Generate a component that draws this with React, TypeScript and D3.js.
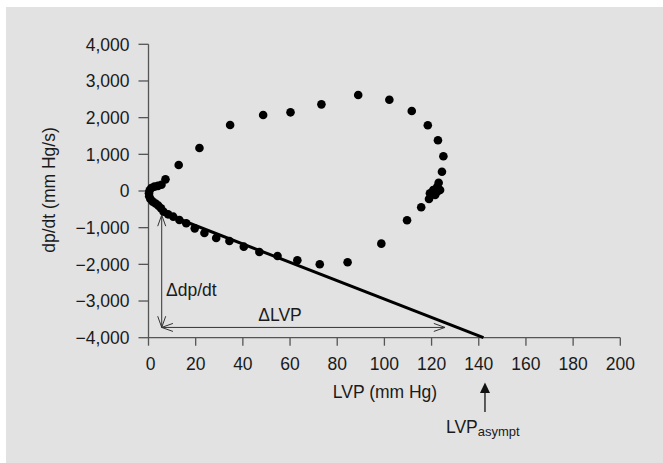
import React from "react";
import * as d3 from "d3";

// LVP (mm Hg) values of the phase-plane points
const lvp: number[] = [
  0.5, 1.2, 2.5, 4.0, 5.5, 7.2, 12.8, 21.6, 34.6, 48.6, 60.2, 73.3, 88.9,
  102.1, 111.6, 118.4, 122.7, 125.0, 124.4, 123.0,
  122.4, 123.6, 120.7, 119.3, 121.5, 122.4,
  118.9, 115.6, 109.6, 98.7, 84.4, 72.6, 63.1, 54.7, 47.0, 40.4, 34.3, 28.7,
  23.7, 19.6, 16.0, 13.1, 10.5, 8.3, 6.4, 5.3, 4.2, 3.0, 1.8, 0.8, 0.3, 0.2,
];
// dp/dt (mm Hg/s) values of the same points
const dpdt: number[] = [
  20, 80, 120, 140, 170, 318, 709, 1172, 1799, 2072, 2145, 2363, 2617,
  2489, 2181, 1791, 1382, 946, 526, 226,
  117, 27, 27, -63, -109, -19,
  -218, -444, -799, -1436, -1944, -1999, -1890, -1772, -1663, -1518, -1363, -1281,
  -1145, -1018, -881, -791, -700, -636, -564, -470, -400, -340, -290, -220, -140, -60,
];

// Asymptote regression line (LVP, dp/dt)
const lineLvp: number[] = [5.5, 142];
const lineDpdt: number[] = [-580, -4000];

// Annotation arrows
const deltaX: number[] = [5.6, 125.7]; // ΔLVP span
const deltaY: number[] = [-654, -3720]; // Δdp/dt span

const xTicks: number[] = [0, 20, 40, 60, 80, 100, 120, 140, 160, 180, 200];
const yTicks: number[] = [-4000, -3000, -2000, -1000, 0, 1000, 2000, 3000, 4000];

const W = 663;
const H = 463;
const FONT = "'Liberation Sans', Arial, sans-serif";

export default function App() {
  const x = d3.scaleLinear().domain([0, 200]).range([148.5, 620.3]);
  const y = d3.scaleLinear().domain([-4000, 4000]).range([337.7, 44.3]);
  const fmt = d3.format(",");
  const yFmt = (v: number) => (v < 0 ? "\u2212" + fmt(-v) : fmt(v));
  const axisColor = "#555";
  const textColor = "#1a1a1a";
  const pts = lvp.map((v, i) => ({ x: v, y: dpdt[i] }));
  const line = d3
    .line<number>()
    .x((_, i) => x(lineLvp[i]))
    .y((d) => y(d));

  const ax = x(deltaX[0]);
  const ay0 = y(deltaY[0]);
  const ay1 = y(deltaY[1]);
  const bx1 = x(deltaX[1]);
  const hs = 7; // open arrowhead size
  const asymX = x(lineLvp[1]) + 1.5;

  return (
    <svg
      width={W}
      height={H}
      style={{ position: "absolute", left: 0, top: 0 }}
      fontFamily={FONT}
    >
      <rect x={0} y={0} width={W} height={H} fill="#ffffff" />
      <rect x={6} y={7} width={W - 6} height={H - 7} fill="#e2e2e2" />

      {/* axes */}
      <line x1={x(0)} x2={x(0)} y1={y(4000)} y2={y(-4000)} stroke={axisColor} strokeWidth={1.3} />
      <line x1={x(0)} x2={x(200)} y1={y(-4000)} y2={y(-4000)} stroke={axisColor} strokeWidth={1.3} />
      {yTicks.map((t) => (
        <g key={"y" + t}>
          <line x1={x(0) - 10} x2={x(0)} y1={y(t)} y2={y(t)} stroke={axisColor} strokeWidth={1.3} />
          <text
            x={129.5}
            y={y(t)}
            dy="0.36em"
            textAnchor="end"
            fontSize={17.5}
            fill={textColor}
          >
            {yFmt(t)}
          </text>
        </g>
      ))}
      {xTicks.map((t) => (
        <g key={"x" + t}>
          <line x1={x(t)} x2={x(t)} y1={y(-4000)} y2={y(-4000) + 8} stroke={axisColor} strokeWidth={1.3} />
          <text
            x={x(t) + (t === 0 ? 2 : 0)}
            y={369.5}
            textAnchor="middle"
            fontSize={17.5}
            fill={textColor}
          >
            {t}
          </text>
        </g>
      ))}
      <text x={385} y={398} textAnchor="middle" fontSize={17.5} fill={textColor}>
        LVP (mm Hg)
      </text>
      <text
        transform={`translate(55,190) rotate(-90)`}
        textAnchor="middle"
        fontSize={17.5}
        fill={textColor}
      >
        dp/dt (mm Hg/s)
      </text>

      {/* regression line */}
      <path d={line(lineDpdt) || ""} stroke="#000" strokeWidth={3} fill="none" />

      {/* points */}
      {pts.map((p, i) => (
        <circle key={i} cx={x(p.x)} cy={y(p.y)} r={4.3} fill="#000" />
      ))}

      {/* Δ annotations */}
      <g stroke="#333" strokeWidth={1} fill="none">
        <line x1={ax} x2={ax} y1={ay0} y2={ay1} />
        <polyline points={`${ax - 4},${ay0 + hs * 1.6} ${ax},${ay0} ${ax + 4},${ay0 + hs * 1.6}`} />
        <polyline points={`${ax - 4},${ay1 - hs * 1.6} ${ax},${ay1} ${ax + 4},${ay1 - hs * 1.6}`} />
        <line x1={ax} x2={bx1} y1={ay1} y2={ay1} />
        <polyline points={`${ax + hs * 1.6},${ay1 - 4} ${ax},${ay1} ${ax + hs * 1.6},${ay1 + 4}`} />
        <polyline points={`${bx1 - hs * 1.6},${ay1 - 4} ${bx1},${ay1} ${bx1 - hs * 1.6},${ay1 + 4}`} />
      </g>
      <text x={166} y={296} fontSize={17.5} fill={textColor}>
        Δdp/dt
      </text>
      <text x={280} y={321} textAnchor="middle" fontSize={17.5} fill={textColor}>
        ΔLVP
      </text>

      {/* LVP asympt arrow */}
      <line x1={asymX} x2={asymX} y1={391} y2={412} stroke="#111" strokeWidth={1.3} />
      <path d={`M${asymX},382.5 L${asymX - 5},393 L${asymX + 5},393 Z`} fill="#111" />
      <text x={446} y={433} fontSize={17.5} fill={textColor}>
        LVP
        <tspan fontSize={13} dy={3}>
          asympt
        </tspan>
      </text>
    </svg>
  );
}
